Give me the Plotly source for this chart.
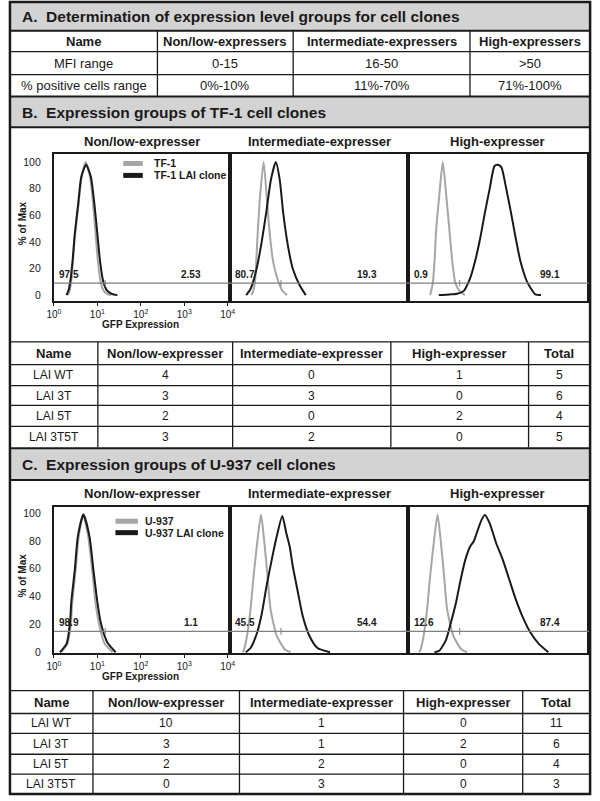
import plotly.graph_objects as go

W, H = 600, 801
FONT = "Liberation Sans, Arial, Helvetica, sans-serif"
INK = "#1a1a1a"
GRAY_CURVE = "#a6a6a6"
BAND = "#d3d3d3"

# ---------------- data ----------------
section_titles = [
    "A.\u00a0\u00a0Determination of expression level groups for cell clones",
    "B.\u00a0\u00a0Expression groups of TF-1 cell clones",
    "C.\u00a0\u00a0Expression groups of U-937 cell clones",
]
table_a_header = ["Name", "Non/low-expressers", "Intermediate-expressers", "High-expressers"]
table_a_mfi = ["MFI range", "0-15", "16-50", ">50"]
table_a_pos = ["% positive cells range", "0%-10%", "11%-70%", "71%-100%"]

groups = ["Non/low-expresser", "Intermediate-expresser", "High-expresser"]
table_header = ["Name", "Non/low-expresser", "Intermediate-expresser", "High-expresser", "Total"]
clones = ["LAI WT", "LAI 3T", "LAI 5T", "LAI 3T5T"]

tf1_non_low = [4, 3, 2, 3]
tf1_intermediate = [0, 3, 0, 2]
tf1_high = [1, 0, 2, 0]
tf1_total = [5, 6, 4, 5]

u937_non_low = [10, 3, 2, 0]
u937_intermediate = [1, 1, 2, 3]
u937_high = [0, 2, 0, 0]
u937_total = [11, 6, 4, 3]

tf1_gate = 9          # % of max level of marker line
u937_gate = 15
gate_split_log = 1.18  # log10 GFP of marker split
tf1_gate_left = [97.5, 80.7, 0.9]
tf1_gate_right = [2.53, 19.3, 99.1]
u937_gate_left = [98.9, 45.5, 12.6]
u937_gate_right = [1.1, 54.4, 87.4]

tick_vals = [1, 10, 100, 1000, 10000]
tick_text = ["10<sup>0</sup>", "10<sup>1</sup>", "10<sup>2</sup>", "10<sup>3</sup>", "10<sup>4</sup>"]
y_ticks = [0, 20, 40, 60, 80, 100]

# histograms: log10(GFP) and % of max
tf1_low_ctrl_log = [0.32, 0.37, 0.40, 0.44, 0.49, 0.57, 0.64, 0.73, 0.83, 0.90, 0.96, 1.01, 1.07, 1.13, 1.22, 1.32]
tf1_low_ctrl_pct = [0, 4, 11, 26, 46, 69, 89, 100, 89, 69, 46, 26, 11, 4, 1, 0]
tf1_low_clone_log = [0.29, 0.34, 0.38, 0.43, 0.48, 0.56, 0.63, 0.74, 0.85, 0.93, 1.00, 1.06, 1.13, 1.21, 1.33, 1.46]
tf1_low_clone_pct = [0, 4, 11, 26, 46, 69, 89, 98, 89, 69, 46, 26, 11, 4, 1, 0]

tf1_int_ctrl_log = [0.50, 0.55, 0.59, 0.61, 0.65, 0.70, 0.78, 0.85, 0.91, 1.00, 1.12, 1.22, 1.32]
tf1_int_ctrl_pct = [0, 4, 13, 25, 50, 75, 100, 75, 50, 25, 10, 3, 0]
tf1_int_clone_log = [0.38, 0.47, 0.53, 0.62, 0.72, 0.84, 0.95, 1.06, 1.15, 1.23, 1.34, 1.45, 1.60, 1.75]
tf1_int_clone_pct = [0, 4, 9, 20, 37, 62, 87, 100, 87, 62, 37, 20, 8, 0]

tf1_high_ctrl_log = [0.50, 0.53, 0.56, 0.60, 0.64, 0.71, 0.79, 0.87, 0.94, 1.01, 1.08, 1.18, 1.30]
tf1_high_ctrl_pct = [0, 4, 9, 25, 50, 75, 100, 75, 50, 25, 9, 3, 0]
tf1_high_clone_log = [0.70, 0.95, 1.12, 1.27, 1.42, 1.53, 1.65, 1.76, 1.87, 1.98, 2.06, 2.14, 2.25, 2.36, 2.47, 2.58, 2.73, 2.92, 3.05]
tf1_high_clone_pct = [0, 0.5, 1, 3, 12.7, 25, 42.5, 62, 80, 97, 98, 96, 80, 62, 42.5, 25, 10, 0.5, 0]

u937_low_ctrl_log = [0.17, 0.31, 0.39, 0.42, 0.50, 0.57, 0.67, 0.79, 0.88, 0.96, 1.04, 1.17, 1.35]
u937_low_ctrl_pct = [0, 6, 20, 35, 59, 83, 99, 83, 59, 35, 20, 6, 0]
u937_low_clone_log = [0.14, 0.29, 0.37, 0.40, 0.48, 0.55, 0.68, 0.82, 0.91, 1.00, 1.08, 1.23, 1.42]
u937_low_clone_pct = [0, 6, 21, 36, 59, 83, 99, 83, 59, 36, 21, 7, 0]

u937_int_ctrl_log = [0.30, 0.33, 0.40, 0.48, 0.55, 0.63, 0.72, 0.80, 0.87, 0.94, 1.08, 1.27, 1.40]
u937_int_ctrl_pct = [0, 2, 12, 31, 55, 78, 99, 78, 55, 31, 12, 2, 0]
u937_int_clone_log = [0.37, 0.48, 0.63, 0.74, 0.85, 0.97, 1.08, 1.21, 1.30, 1.38, 1.45, 1.57, 1.68, 1.83, 2.02, 2.31]
u937_int_clone_pct = [0, 3, 14, 28, 48, 67, 83, 98, 86, 76, 62, 43, 26, 12, 3, 0]

u937_high_ctrl_log = [0.25, 0.28, 0.35, 0.43, 0.50, 0.58, 0.67, 0.75, 0.82, 0.89, 1.03, 1.22, 1.35]
u937_high_ctrl_pct = [0, 2, 12, 31, 55, 78, 99, 78, 55, 31, 12, 2, 0]
u937_high_clone_log = [0.60, 0.71, 0.86, 0.97, 1.09, 1.20, 1.31, 1.42, 1.50, 1.57, 1.68, 1.76, 1.87, 2.02, 2.17, 2.32, 2.47, 2.62, 2.81, 3.00, 3.22]
u937_high_clone_pct = [0, 1, 8.5, 20.5, 35, 52, 66.6, 76, 79.6, 85.6, 95, 98.7, 92.7, 78.4, 66.6, 52.3, 38, 26, 14, 6, 0]

# ---------------- layout geometry (pixels) ----------------
def X(px):
    return px / W

def Y(py):
    return 1 - py / H

panel_x = [(47, 227), (227, 410), (410, 593)]
px_per_decade = 44.5
b_top, b_bot = 155, 303
c_top, c_bot = 510, 657
b_yrange = [-4.5, 106]
c_yrange = [-0.5, 104.6]

fig = go.Figure()
shapes = []
ann = []

def text(x, y, s, size=13, bold=False, xanchor="center", color=INK, **kw):
    ann.append(dict(x=X(x), y=Y(y), xref="paper", yref="paper", text=f"<b>{s}</b>" if bold else s,
                    showarrow=False, xanchor=xanchor, yanchor="middle",
                    font=dict(family=FONT, size=size, color=color), **kw))

def hline(y, x0=2, x1=596, w=1.3, color=INK):
    shapes.append(dict(type="line", xref="paper", yref="paper", x0=X(x0), x1=X(x1), y0=Y(y), y1=Y(y),
                       line=dict(color=color, width=w)))

def vline(x, y0, y1, w=1.3, color=INK):
    shapes.append(dict(type="line", xref="paper", yref="paper", x0=X(x), x1=X(x), y0=Y(y0), y1=Y(y1),
                       line=dict(color=color, width=w)))

# section bands
bands = [(2, 31), (97, 128), (451, 483)]
for (t, b), title in zip(bands, section_titles):
    shapes.append(dict(type="rect", xref="paper", yref="paper", x0=X(2), x1=X(596), y0=Y(b), y1=Y(t),
                       fillcolor=BAND, line=dict(width=0), layer="below"))
    hline(t, w=2)
    hline(b, w=2)
    text(12, (t + b) / 2 + 0.5, title, size=15.5, bold=True, xanchor="left")

# ---- table A ----
a_cols = [2, 153, 292, 473, 596]
a_rows = [31, 52, 75, 97]
for r in a_rows[1:-1]:
    hline(r)
for c in a_cols[1:-1]:
    vline(c, a_rows[0], a_rows[-1])
for ri, row in enumerate([table_a_header, table_a_mfi, table_a_pos]):
    cy = (a_rows[ri] + a_rows[ri + 1]) / 2
    for ci, val in enumerate(row):
        cx = (a_cols[ci] + a_cols[ci + 1]) / 2
        text(cx, cy, val, size=13, bold=(ri == 0))

# ---- count tables B and C ----
def count_table(cols, rows, cnt_low, cnt_int, cnt_high, cnt_tot):
    for r in rows[:-1]:
        hline(r)
    for c in cols[1:-1]:
        vline(c, rows[0], rows[-1])
    cy = (rows[0] + rows[1]) / 2
    for ci, val in enumerate(table_header):
        text((cols[ci] + cols[ci + 1]) / 2, cy, val, size=13, bold=True)
    for ri, name in enumerate(clones):
        cy = (rows[ri + 1] + rows[ri + 2]) / 2
        vals = [name, cnt_low[ri], cnt_int[ri], cnt_high[ri], cnt_tot[ri]]
        for ci, val in enumerate(vals):
            text((cols[ci] + cols[ci + 1]) / 2, cy, str(val), size=12)

count_table([2, 92, 230, 392, 533, 596], [344, 367, 388, 408, 429, 450],
            tf1_non_low, tf1_intermediate, tf1_high, tf1_total)
count_table([2, 87, 237, 405, 527, 596], [695, 718, 738, 759, 779, 799],
            u937_non_low, u937_intermediate, u937_high, u937_total)

# ---- histogram panels ----
blocks = [
    dict(top=b_top, bot=b_bot, yr=b_yrange, gate=tf1_gate, left=tf1_gate_left, right=tf1_gate_right,
         curves=[(tf1_low_ctrl_log, tf1_low_ctrl_pct, tf1_low_clone_log, tf1_low_clone_pct),
                 (tf1_int_ctrl_log, tf1_int_ctrl_pct, tf1_int_clone_log, tf1_int_clone_pct),
                 (tf1_high_ctrl_log, tf1_high_ctrl_pct, tf1_high_clone_log, tf1_high_clone_pct)],
         legend=("TF-1", "TF-1 LAI clone"), leg_x=(118, 138, 147), leg_y=(164.5, 176.5)),
    dict(top=c_top, bot=c_bot, yr=c_yrange, gate=u937_gate, left=u937_gate_left, right=u937_gate_right,
         curves=[(u937_low_ctrl_log, u937_low_ctrl_pct, u937_low_clone_log, u937_low_clone_pct),
                 (u937_int_ctrl_log, u937_int_ctrl_pct, u937_int_clone_log, u937_int_clone_pct),
                 (u937_high_ctrl_log, u937_high_ctrl_pct, u937_high_clone_log, u937_high_clone_pct)],
         legend=("U-937", "U-937 LAI clone"), leg_x=(110, 133, 138), leg_y=(524.5, 536)),
]

right_label_pos = [0.78, 0.77, 0.79]
ax_i = 0
for bi, blk in enumerate(blocks):
    first_y = None
    for pi, (x0, x1) in enumerate(panel_x):
        ax_i += 1
        xa = "x" if ax_i == 1 else f"x{ax_i}"
        ya = "y" if ax_i == 1 else f"y{ax_i}"
        xkey = "xaxis" if ax_i == 1 else f"xaxis{ax_i}"
        ykey = "yaxis" if ax_i == 1 else f"yaxis{ax_i}"
        if pi == 0:
            first_y = ya
        is_first = pi == 0
        fig.update_layout(**{
            xkey: dict(domain=[X(x0), X(x1)], anchor=ya, type="log",
                       range=[0, (x1 - x0) / px_per_decade],
                       showgrid=False, zeroline=False, showline=True, mirror=True,
                       linecolor=INK, linewidth=2,
                       showticklabels=is_first, tickvals=tick_vals, ticktext=tick_text,
                       ticks="outside" if is_first else "", ticklen=3, tickwidth=1, tickcolor=INK,
                       tickfont=dict(family=FONT, size=10, color=INK)),
            ykey: dict(domain=[Y(blk["bot"]), Y(blk["top"])], anchor=xa, range=blk["yr"],
                       showgrid=False, zeroline=False, showline=True, mirror=True,
                       linecolor=INK, linewidth=2,
                       showticklabels=is_first, tickvals=y_ticks,
                       ticks="outside" if is_first else "", ticklen=9, tickcolor="rgba(0,0,0,0)",
                       tickfont=dict(family=FONT, size=10.5, color=INK)),
        })
        cl, cp, kl, kp = blk["curves"][pi]
        fig.add_trace(go.Scatter(x=[10 ** v for v in cl], y=cp, mode="lines", xaxis=xa, yaxis=ya,
                                 line=dict(color=GRAY_CURVE, width=2, shape="spline", smoothing=0.6),
                                 showlegend=False, hoverinfo="skip"))
        fig.add_trace(go.Scatter(x=[10 ** v for v in kl], y=kp, mode="lines", xaxis=xa, yaxis=ya,
                                 line=dict(color=INK, width=2, shape="spline", smoothing=0.6),
                                 showlegend=False, hoverinfo="skip"))
        # marker split tick
        fig.add_trace(go.Scatter(x=[10 ** gate_split_log] * 2, y=[blk["gate"] - 2.5, blk["gate"] + 2.5],
                                 mode="lines", xaxis=xa, yaxis=ya,
                                 line=dict(color="#808080", width=1), showlegend=False, hoverinfo="skip"))
        # marker percentages
        ann.append(dict(xref=f"{xa} domain", yref=ya, x=0.02, y=blk["gate"], yshift=1,
                        text=f"<b>{blk['left'][pi]}</b>", showarrow=False, xanchor="left", yanchor="bottom",
                        font=dict(family=FONT, size=10, color=INK)))
        ann.append(dict(xref=f"{xa} domain", yref=ya, x=right_label_pos[pi], y=blk["gate"], yshift=1,
                        text=f"<b>{blk['right'][pi]}</b>", showarrow=False, xanchor="center", yanchor="bottom",
                        font=dict(family=FONT, size=10, color=INK)))
        # panel title
        text((x0 + x1) / 2, blk["top"] - 13, groups[pi], size=13, bold=True)

    # marker line spanning the panels
    shapes.append(dict(type="line", xref="paper", yref=first_y, x0=X(47), x1=X(596),
                       y0=blk["gate"], y1=blk["gate"], line=dict(color="#808080", width=1.2)))
    # legend
    lx0, lx1, ltx = blk["leg_x"]
    for (lab, col), ly in zip([(blk["legend"][0], GRAY_CURVE), (blk["legend"][1], INK)], blk["leg_y"]):
        shapes.append(dict(type="line", xref="paper", yref="paper", x0=X(lx0), x1=X(lx1), y0=Y(ly), y1=Y(ly),
                           line=dict(color=col, width=5)))
        text(ltx, ly, lab, size=10.5, bold=True, xanchor="left")
    # axis titles
    text(15, (blk["top"] + blk["bot"]) / 2 - 4, "% of Max", size=10, bold=True, textangle=-90)
    text(136, blk["bot"] + 24, "GFP Expression", size=10, bold=True)

# outer border
shapes.append(dict(type="rect", xref="paper", yref="paper", x0=X(2), x1=X(596), y0=Y(799), y1=Y(2),
                   line=dict(color=INK, width=2.5)))

fig.update_layout(autosize=True, margin=dict(l=0, r=0, t=0, b=0, pad=0),
                  paper_bgcolor="white", plot_bgcolor="white",
                  shapes=shapes, annotations=ann, showlegend=False)

fig.write_html("out.html",
               config={"displayModeBar": False},
               default_width=f"{W}px; position:absolute; left:0px; top:0px",
               default_height=f"{H}px",
               post_script="document.body.style.margin='0';")
